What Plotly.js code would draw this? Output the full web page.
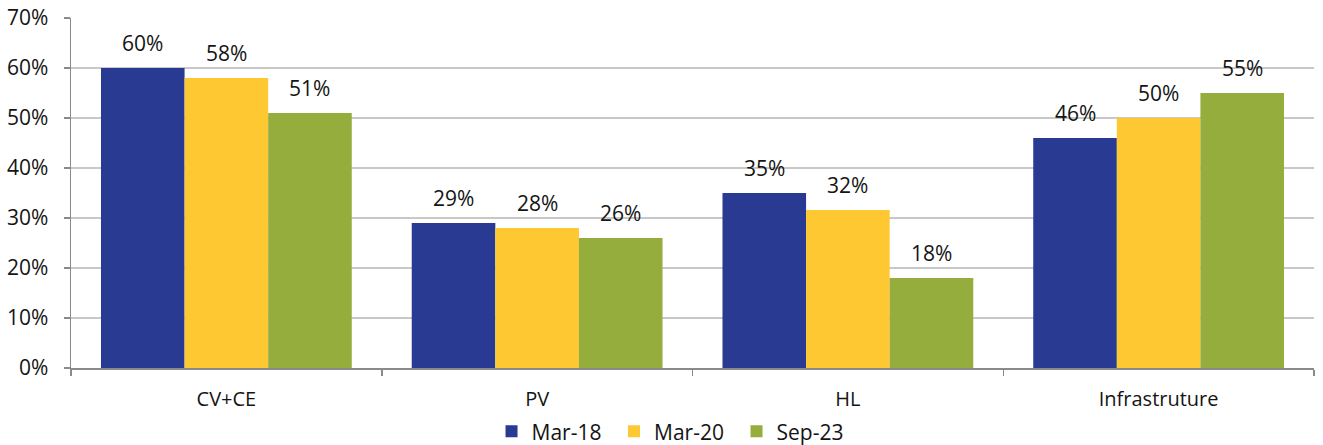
<!DOCTYPE html>
<html>
<head>
<meta charset="utf-8">
<script src="https://cdn.plot.ly/plotly-3.0.1.min.js"></script>
<style>html,body{margin:0;padding:0;background:#fff}#chart{width:1323px;height:445px}</style>
</head>
<body>
<div id="chart"></div>
<script>
const categories = ["CV+CE", "PV", "HL", "Infrastruture"];
const seriesNames = ["Mar-18", "Mar-20", "Sep-23"];
const mar18 = [60, 29, 35, 46];
const mar20 = [58, 28, 31.6, 50];
const sep23 = [51, 26, 18, 55];
const colors = ["#283A92", "#FEC832", "#95AD3C"];
const yTicks = [0, 10, 20, 30, 40, 50, 60, 70];

const FONT = "Open Sans, Noto Sans, sans-serif";
const TXT = "#141414";
const allSeries = [mar18, mar20, sep23];
const traces = allSeries.map((vals, i) => ({
  type: "bar",
  name: seriesNames[i],
  x: categories,
  y: vals,
  marker: {color: colors[i], line: {width: 0}},
  hoverinfo: "skip"
}));

const barW = 83.5;
const annotations = [];
allSeries.forEach((vals, i) => {
  vals.forEach((v, j) => {
    annotations.push({
      x: categories[j], y: v, xref: "x", yref: "y",
      text: Math.round(v) + "%",
      showarrow: false, xshift: (i - 1) * barW, yshift: 25,
      yanchor: "middle",
      font: {family: FONT, size: 21, color: TXT}
    });
  });
});

const layout = {
  width: 1323, height: 445,
  margin: {l: 71, r: 9, t: 18, b: 77},
  paper_bgcolor: "#fff", plot_bgcolor: "#fff",
  barmode: "group", bargap: 0.193, bargroupgap: 0,
  font: {family: FONT, size: 20, color: TXT},
  showlegend: true,
  legend: {orientation: "h", xref: "container", x: 0.5106, xanchor: "center", yref: "container", y: 0.03, yanchor: "middle",
           font: {family: FONT, size: 21, color: TXT}, itemwidth: 30, entrywidth: 77.5, tracegroupgap: 0},
  xaxis: {
    type: "category", tickson: "boundaries", ticks: "outside", ticklen: 6, tickcolor: "#8a8a8a", tickwidth: 1.5,
    showline: true, linecolor: "#8a8a8a", linewidth: 1.5, showgrid: false, zeroline: false,
    tickfont: {family: FONT, size: 20, color: TXT},
    ticklabelstandoff: 12, fixedrange: true
  },
  yaxis: {
    range: [0, 70], tickvals: yTicks, ticktext: yTicks.map(t => t + "%"),
    ticks: "outside", ticklen: 6, tickcolor: "#8a8a8a", tickwidth: 1.5,
    showline: true, linecolor: "#8a8a8a", linewidth: 1.5,
    showgrid: true, gridcolor: "#c8c8c8", gridwidth: 1.2, zeroline: false,
    tickfont: {family: FONT, size: 21, color: TXT},
    ticklabelstandoff: 11, fixedrange: true
  },
  annotations: annotations
};

Plotly.newPlot("chart", traces, layout, {staticPlot: true, displayModeBar: false});
</script>
</body>
</html>
